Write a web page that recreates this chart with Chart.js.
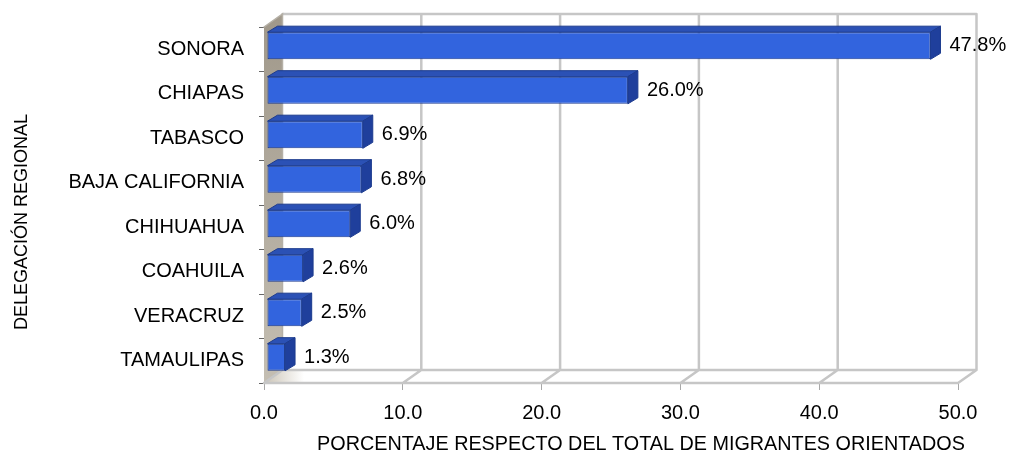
<!DOCTYPE html>
<html>
<head>
<meta charset="utf-8">
<script src="https://cdn.jsdelivr.net/npm/chart.js@4.4.0/dist/chart.umd.min.js"></script>
<style>
  html, body { margin: 0; padding: 0; background: #fff; }
  #wrap { width: 1016px; height: 459px; }
</style>
</head>
<body>
<div id="wrap"><canvas id="chart"></canvas></div>
<script>
// datos del grafico
const categories = ['SONORA', 'CHIAPAS', 'TABASCO', 'BAJA CALIFORNIA', 'CHIHUAHUA', 'COAHUILA', 'VERACRUZ', 'TAMAULIPAS'];
const percentages = [47.8, 26.0, 6.9, 6.8, 6.0, 2.6, 2.5, 1.3];
const xTicks = [0, 10, 20, 30, 40, 50];
const yTitle = 'DELEGACIÓN REGIONAL';
const xTitle = 'PORCENTAJE RESPECTO DEL TOTAL DE MIGRANTES ORIENTADOS';

const FONT = '"Liberation Sans", Arial, sans-serif';

// profundidad de la caja 3D y de las barras
const WALL_DX = 18.5, WALL_DY = -13;
const BAR_DX = 10, BAR_DY = -6;
const SHIFT_X = 3, SHIFT_Y = -3.5;

function poly(ctx, pts, fill, stroke) {
  ctx.beginPath();
  ctx.moveTo(pts[0][0], pts[0][1]);
  for (let i = 1; i < pts.length; i++) ctx.lineTo(pts[i][0], pts[i][1]);
  ctx.closePath();
  if (fill) { ctx.fillStyle = fill; ctx.fill(); }
  if (stroke) { ctx.strokeStyle = stroke; ctx.lineWidth = 1; ctx.stroke(); }
}

const box3d = {
  id: 'box3d',
  beforeDatasetsDraw(chart) {
    const ctx = chart.ctx;
    const a = chart.chartArea;
    const xs = chart.scales.x;
    const L = a.left, B = a.bottom, T = a.top;
    const xEnd = xs.getPixelForValue(50);
    ctx.save();

    // piso
    const floorGrad = ctx.createLinearGradient(L, 0, L + 40, 0);
    floorGrad.addColorStop(0, '#cbc4b6');
    floorGrad.addColorStop(1, '#ffffff');
    poly(ctx, [[L, B], [L + WALL_DX, B + WALL_DY], [xEnd + WALL_DX, B + WALL_DY], [xEnd, B]], floorGrad);

    // pared izquierda
    const wallGrad = ctx.createLinearGradient(0, T + WALL_DY, 0, B);
    wallGrad.addColorStop(0, '#a0988a');
    wallGrad.addColorStop(1, '#c4beb2');
    poly(ctx, [[L, T], [L + WALL_DX, T + WALL_DY], [L + WALL_DX, B + WALL_DY], [L, B]], wallGrad);

    // lineas de la cuadricula
    ctx.strokeStyle = '#c6c6c6';
    ctx.lineWidth = 2.5;
    ctx.lineCap = 'round';
    ctx.beginPath();
    ctx.moveTo(L + WALL_DX, T + WALL_DY); ctx.lineTo(xEnd + WALL_DX, T + WALL_DY);
    ctx.moveTo(L, B); ctx.lineTo(xEnd, B);
    ctx.moveTo(L + WALL_DX, B + WALL_DY); ctx.lineTo(xEnd + WALL_DX, B + WALL_DY);
    xTicks.forEach(v => {
      const px = xs.getPixelForValue(v);
      if (v > 0) {
        ctx.moveTo(px + WALL_DX, T + WALL_DY); ctx.lineTo(px + WALL_DX, B + WALL_DY);
      }
      ctx.moveTo(px, B); ctx.lineTo(px + WALL_DX, B + WALL_DY);
    });
    ctx.stroke();
    // borde de la pared
    ctx.strokeStyle = '#b5b0a6';
    ctx.lineWidth = 1.5;
    ctx.beginPath();
    ctx.moveTo(L, T); ctx.lineTo(L + WALL_DX, T + WALL_DY); ctx.lineTo(L + WALL_DX, B + WALL_DY);
    ctx.stroke();
    ctx.restore();
  },
  beforeDatasetDraw(chart) {
    chart.ctx.save();
    chart.ctx.translate(SHIFT_X, SHIFT_Y);
  },
  afterDatasetDraw(chart, args) {
    const ctx = chart.ctx;
    args.meta.data.forEach(el => {
      const p = el.getProps(['x', 'y', 'base', 'height'], true);
      const top = p.y - p.height / 2, bot = p.y + p.height / 2;
      // cara superior
      poly(ctx, [[p.base, top], [p.base + BAR_DX, top + BAR_DY], [p.x + BAR_DX, top + BAR_DY], [p.x, top]], '#2b51b5', '#1b3a8e');
      // cara lateral
      poly(ctx, [[p.x, top], [p.x + BAR_DX, top + BAR_DY], [p.x + BAR_DX, bot + BAR_DY], [p.x, bot]], '#1f3f9c', '#1b3a8e');
    });
    ctx.restore();
  },
  afterDatasetsDraw(chart) {
    const ctx = chart.ctx;
    const meta = chart.getDatasetMeta(0);
    ctx.save();
    ctx.fillStyle = '#000';
    ctx.font = '20px ' + FONT;
    ctx.textAlign = 'left';
    ctx.textBaseline = 'middle';
    meta.data.forEach((el, i) => {
      const p = el.getProps(['x', 'y'], true);
      ctx.fillText(percentages[i].toFixed(1) + '%', p.x + SHIFT_X + BAR_DX + 9, p.y + SHIFT_Y);
    });
    ctx.restore();
  },
  afterDraw(chart) {
    const ctx = chart.ctx;
    ctx.save();
    ctx.fillStyle = '#000';
    ctx.textAlign = 'center';
    ctx.textBaseline = 'middle';
    ctx.font = '18px ' + FONT;
    ctx.translate(22, 222);
    ctx.rotate(-Math.PI / 2);
    ctx.fillText(yTitle, 0, 0);
    ctx.restore();
    ctx.save();
    ctx.fillStyle = '#000';
    ctx.textAlign = 'center';
    ctx.textBaseline = 'middle';
    ctx.font = '19.8px ' + FONT;
    ctx.fillText(xTitle, 641, 445);
    ctx.restore();
  }
};

const ctx = document.getElementById('chart').getContext('2d');
new Chart(ctx, {
  type: 'bar',
  data: {
    labels: categories,
    datasets: [{
      data: percentages,
      backgroundColor: '#3264de',
      borderColor: '#1b3a8e',
      borderWidth: 1,
      borderSkipped: false,
      barPercentage: 0.61,
      categoryPercentage: 1
    }]
  },
  options: {
    indexAxis: 'y',
    responsive: true,
    maintainAspectRatio: false,
    animation: false,
    layout: { padding: { top: 27, right: 58, left: 0, bottom: 0 } },
    plugins: { legend: { display: false }, tooltip: { enabled: false } },
    scales: {
      x: {
        type: 'linear',
        min: 0,
        max: 50,
        afterBuildTicks: s => { s.ticks = xTicks.map(v => ({ value: v })); },
        afterFit: s => { s.height = 76; },
        ticks: { color: '#000', font: { family: FONT, size: 20 }, padding: 11, callback: v => Number(v).toFixed(1), maxRotation: 0 },
        grid: { drawOnChartArea: false, tickLength: 7, color: '#a8a8a8' },
        border: { display: false }
      },
      y: {
        afterFit: s => { s.width = 264; },
        ticks: { color: '#000', font: { family: FONT, size: 20 }, padding: 15 },
        grid: { drawOnChartArea: false, tickLength: 5, color: '#666', offset: true },
        border: { display: false }
      }
    }
  },
  plugins: [box3d]
});
</script>
</body>
</html>
